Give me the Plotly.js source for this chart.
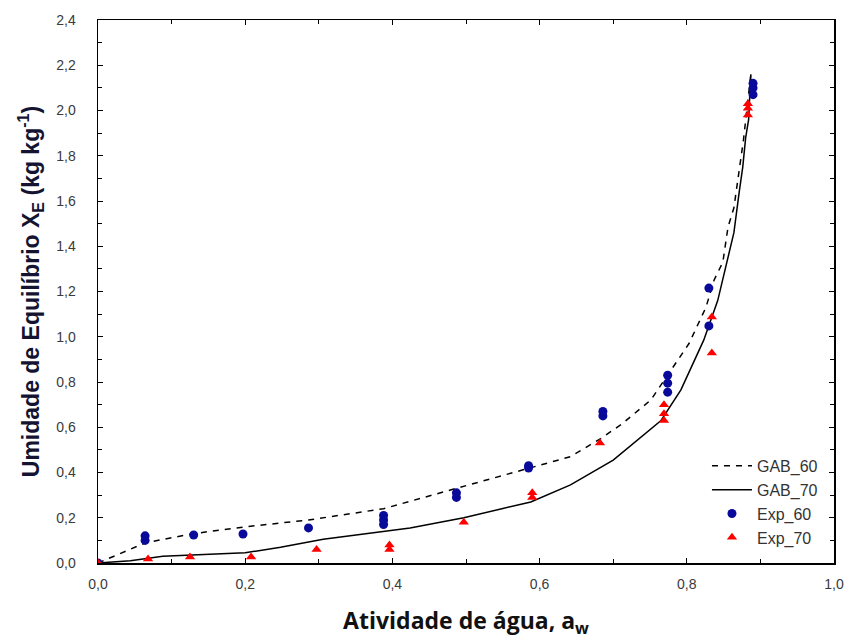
<!DOCTYPE html>
<html>
<head>
<meta charset="utf-8">
<script src="https://cdn.plot.ly/plotly-3.0.1.min.js"></script>
<style>html,body{margin:0;padding:0;background:#fff;}#chart{width:846px;height:639px;}</style>
</head>
<body>
<div id="chart"></div>
<script>
// Fitted GAB curves
const gab60X = [0, 0.065, 0.13, 0.2, 0.286, 0.326, 0.388, 0.487, 0.585, 0.642, 0.683, 0.71, 0.751, 0.778, 0.803, 0.826, 0.837, 0.849, 0.856, 0.864, 0.869, 0.877, 0.887];
const gab60Y = [0, 0.09, 0.13, 0.16, 0.19, 0.21, 0.24, 0.33, 0.42, 0.47, 0.55, 0.61, 0.72, 0.85, 0.97, 1.13, 1.25, 1.33, 1.485, 1.57, 1.69, 1.87, 2.16];
const gab70X = [0, 0.044, 0.088, 0.2, 0.248, 0.306, 0.424, 0.497, 0.588, 0.642, 0.70, 0.765, 0.792, 0.823, 0.842, 0.85, 0.864, 0.871, 0.876, 0.88, 0.884, 0.887];
const gab70Y = [0, 0.01, 0.03, 0.045, 0.07, 0.105, 0.155, 0.2, 0.27, 0.345, 0.455, 0.63, 0.765, 0.985, 1.16, 1.265, 1.46, 1.635, 1.75, 1.88, 1.96, 2.16];
// Experimental points
const exp60X = [0, 0.064, 0.064, 0.13, 0.197, 0.286, 0.388, 0.388, 0.388, 0.487, 0.487, 0.585, 0.585, 0.686, 0.686, 0.774, 0.774, 0.774, 0.83, 0.83, 0.89, 0.89, 0.89];
const exp60Y = [0, 0.10, 0.12, 0.124, 0.128, 0.155, 0.17, 0.19, 0.21, 0.29, 0.31, 0.42, 0.43, 0.65, 0.67, 0.755, 0.795, 0.83, 1.215, 1.048, 2.07, 2.10, 2.12];
const exp70X = [0, 0.068, 0.125, 0.208, 0.297, 0.396, 0.396, 0.497, 0.59, 0.59, 0.682, 0.769, 0.769, 0.769, 0.834, 0.834, 0.883, 0.883, 0.883];
const exp70Y = [0, 0.018, 0.027, 0.027, 0.06, 0.06, 0.08, 0.18, 0.29, 0.31, 0.53, 0.63, 0.66, 0.70, 0.928, 1.087, 1.98, 2.01, 2.03];
const seriesNames = ['GAB_60', 'GAB_70', 'Exp_60', 'Exp_70'];

const sans = '"Liberation Sans", Arial, sans-serif';

const traces = [
  {x: gab60X, y: gab60Y, name: seriesNames[0], mode: 'lines', type: 'scatter',
   line: {color: '#000', width: 1.5, dash: '6px,6px'}},
  {x: gab70X, y: gab70Y, name: seriesNames[1], mode: 'lines', type: 'scatter',
   line: {color: '#000', width: 1.5}},
  {x: exp60X, y: exp60Y, name: seriesNames[2], mode: 'markers', type: 'scatter',
   marker: {symbol: 'circle', color: '#0a0a9a', size: 9}},
  {x: exp70X, y: exp70Y, name: seriesNames[3], mode: 'markers', type: 'scatter',
   marker: {symbol: 'triangle-up', color: '#ff0000', size: 9}}
];

const axisCommon = {
  showgrid: false, zeroline: false, showline: true, linecolor: '#000', linewidth: 1.5,
  mirror: 'ticks', ticks: 'inside', ticklen: 5, tickcolor: '#000', tickwidth: 1,
  tickformat: '.1f', tickfont: {family: sans, size: 14, color: '#3a3a3a'},
  minor: {ticks: 'inside', ticklen: 4, dtick: 0.1, tickcolor: '#000'}
};

const layout = {
  width: 846, height: 639,
  margin: {l: 98, r: 12, t: 20, b: 76},
  paper_bgcolor: '#fff', plot_bgcolor: '#fff',
  separators: ',.',
  showlegend: true,
  legend: {x: 0.985, y: 0.21, xanchor: 'right', yanchor: 'top', bgcolor: 'rgba(0,0,0,0)',
    font: {family: sans, size: 16, color: '#333'}, tracegroupgap: 0, itemwidth: 40},
  xaxis: Object.assign({}, axisCommon, {
    range: [0, 1], dtick: 0.2, tick0: 0, ticklabelstandoff: 8,
    title: {text: 'Atividade de água, a<sub>w</sub>', standoff: 34,
      font: {family: '"Open Sans", "Noto Sans", sans-serif', size: 23, color: '#111', weight: 'bold'}}
  }),
  yaxis: Object.assign({}, axisCommon, {
    range: [0, 2.4], dtick: 0.2, tick0: 0, ticklabelstandoff: 18,
    title: {text: 'Umidade de Equilíbrio X<sub>E</sub> (kg kg<sup>-1</sup>)', standoff: 10,
      font: {family: sans, size: 23, color: '#141432', weight: 'bold'}}
  })
};

Plotly.newPlot('chart', traces, layout, {displayModeBar: false, staticPlot: true});
</script>
</body>
</html>
